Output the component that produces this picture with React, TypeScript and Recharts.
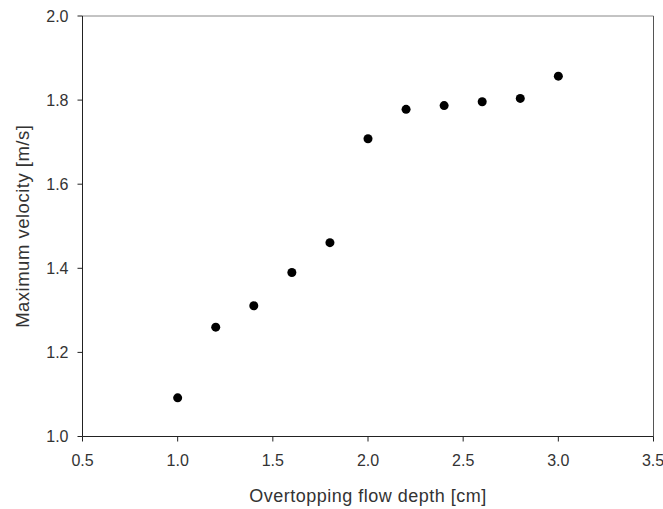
import React from 'react';
import {
    ScatterChart,
    Scatter,
    XAxis,
    YAxis,
    ReferenceLine,
} from 'recharts';

// overtopping flow depth [cm]
const depthCm = [1.0, 1.2, 1.4, 1.6, 1.8, 2.0, 2.2, 2.4, 2.6, 2.8, 3.0];
// maximum velocity [m/s]
const maxVelocity = [1.092, 1.26, 1.311, 1.39, 1.461, 1.708, 1.778, 1.787, 1.796, 1.804, 1.857];

const xTicks = [0.5, 1.0, 1.5, 2.0, 2.5, 3.0, 3.5];
const yTicks = [1.0, 1.2, 1.4, 1.6, 1.8, 2.0];

const data = depthCm.map((d, i) => ({ depth: d, velocity: maxVelocity[i] }));

const FONT = '"Liberation Sans", Arial, sans-serif';

const App: React.FC = () => {
    return (
        <div style={{ position: 'absolute', left: 0, top: 0, background: '#ffffff' }}>
            <ScatterChart
                width={663}
                height={509}
                margin={{ top: 16, right: 9.5, bottom: 0, left: 0 }}
                style={{ fontFamily: FONT }}
            >
                <XAxis
                    type="number"
                    dataKey="depth"
                    domain={[0.5, 3.5]}
                    ticks={xTicks}
                    tickFormatter={(v: number) => v.toFixed(1)}
                    height={72.5}
                    tickSize={5}
                    tickMargin={13}
                    tick={{ fontSize: 16, fill: '#333', fontFamily: FONT }}
                    axisLine={{ stroke: '#222', strokeWidth: 1 }}
                    tickLine={{ stroke: '#222' }}
                    label={{
                        value: 'Overtopping flow depth [cm]',
                        position: 'insideBottom',
                        offset: 7,
                        style: { fontSize: 18, letterSpacing: 0.5, fill: '#333', fontFamily: FONT },
                    }}
                />
                <YAxis
                    type="number"
                    dataKey="velocity"
                    domain={[1.0, 2.0]}
                    ticks={yTicks}
                    tickFormatter={(v: number) => v.toFixed(1)}
                    width={82.5}
                    tickSize={5}
                    tickMargin={9}
                    tick={{ fontSize: 16, fill: '#333', fontFamily: FONT }}
                    axisLine={{ stroke: '#222', strokeWidth: 1 }}
                    tickLine={{ stroke: '#222' }}
                    label={{
                        value: 'Maximum velocity [m/s]',
                        angle: -90,
                        position: 'insideLeft',
                        offset: 22,
                        style: { fontSize: 18.5, letterSpacing: 0.5, fill: '#333', fontFamily: FONT, textAnchor: 'middle' },
                    }}
                />
                {/* frame: top and right edges */}
                <ReferenceLine y={2.0} stroke="#888" strokeWidth={1} />
                <ReferenceLine x={3.5} stroke="#555" strokeWidth={1} />
                <Scatter
                    data={data}
                    fill="#000000"
                    shape={(props: any) => (
                        <circle cx={props.cx} cy={props.cy} r={4.5} fill="#000000" />
                    )}
                    isAnimationActive={false}
                />
            </ScatterChart>
        </div>
    );
};

export default App;
